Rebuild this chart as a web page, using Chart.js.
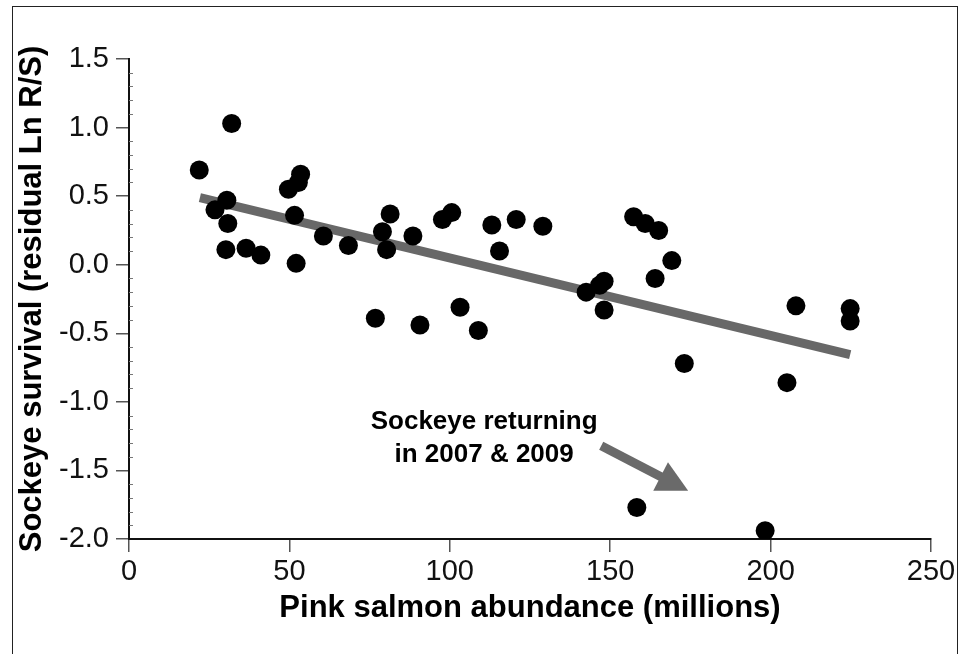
<!DOCTYPE html>
<html>
<head>
<meta charset="utf-8">
<script src="https://cdn.jsdelivr.net/npm/chart.js@4/dist/chart.umd.min.js"></script>
<style>
  html, body { margin: 0; padding: 0; background: #fff; }
  #wrap { position: relative; width: 969px; height: 654px; overflow: hidden; }
  #frame { position: absolute; left: 12px; top: 6px; width: 946px; height: 700px; border: 1.5px solid #222; box-sizing: border-box; }
  canvas { position: absolute; left: 0; top: 0; }
</style>
</head>
<body>
<div id="wrap">
  <div id="frame"></div>
  <canvas id="chart" width="969" height="654"></canvas>
</div>
<script>
// 粉紅鮭數量 (百萬) 與紅鮭存活殘差
const pinkAbundance = [
  21.9, 26.8, 30.2, 30.5, 30.8, 32.0, 36.5, 41.1, 49.7, 51.6,
  52.1, 52.8, 53.5, 60.6, 68.4, 76.8, 79.0, 80.3, 81.4, 88.5,
  90.7, 97.7, 100.6, 103.2, 108.9, 113.1, 115.5, 120.7, 129.0, 142.5,
  146.7, 148.1, 148.1, 157.3, 158.3, 160.9, 164.0, 165.1, 169.2, 173.1,
  198.3, 205.1, 207.9, 224.8, 224.8
];
const sockeyeSurvival = [
  0.69, 0.40, 0.11, 0.47, 0.30, 1.03, 0.12, 0.07, 0.55, 0.36,
  0.01, 0.60, 0.66, 0.21, 0.14, -0.39, 0.24, 0.11, 0.37, 0.21,
  -0.44, 0.33, 0.38, -0.31, -0.48, 0.29, 0.10, 0.33, 0.28, -0.20,
  -0.15, -0.12, -0.33, 0.35, -1.77, 0.30, -0.10, 0.25, 0.03, -0.72,
  -1.94, -0.86, -0.30, -0.32, -0.41
];

// 回歸線兩端
const trendX = [22.1, 224.8];
const trendY = [0.49, -0.656];

// 軸範圍與刻度
const xRange = [0, 250];
const xStep = 50;
const yRange = [-2.0, 1.5];
const yStep = 0.5;

// 註解文字
const noteLines = ['Sockeye returning', 'in 2007 & 2009'];
const noteAt = { x: 110.7, y: [-1.145, -1.385] };
const arrowFrom = { x: 147.2, y: -1.32 };
const arrowTo = { x: 174.3, y: -1.648 };

const FONT = '"Liberation Sans", Arial, Helvetica, sans-serif';

const points = pinkAbundance.map((x, i) => ({ x: x, y: sockeyeSurvival[i] }));
const trend = trendX.map((x, i) => ({ x: x, y: trendY[i] }));

// 小刻度 + 註解 + 箭頭
const extras = {
  id: 'extras',
  afterDatasetsDraw(chart) {
    const ctx = chart.ctx;
    const xs = chart.scales.x, ys = chart.scales.y;
    ctx.save();

    // y 軸內側小刻度
    ctx.strokeStyle = '#777';
    ctx.lineWidth = 1;
    for (let k = -20; k <= 15; k++) {
      if (k % 5 === 0) continue;
      const py = Math.round(ys.getPixelForValue(k / 10)) + 0.5;
      ctx.beginPath();
      ctx.moveTo(xs.left, py);
      ctx.lineTo(xs.left + 4, py);
      ctx.stroke();
    }

    // 文字
    ctx.fillStyle = '#000';
    ctx.font = 'bold 26px ' + FONT;
    ctx.textAlign = 'center';
    ctx.textBaseline = 'middle';
    noteLines.forEach((t, i) => {
      ctx.fillText(t, xs.getPixelForValue(noteAt.x), ys.getPixelForValue(noteAt.y[i]));
    });

    // 箭頭
    const x0 = xs.getPixelForValue(arrowFrom.x), y0 = ys.getPixelForValue(arrowFrom.y);
    const x1 = xs.getPixelForValue(arrowTo.x), y1 = ys.getPixelForValue(arrowTo.y);
    const len = Math.hypot(x1 - x0, y1 - y0);
    const ux = (x1 - x0) / len, uy = (y1 - y0) / len;
    const headLen = 31, headHalf = 16;
    const bx = x1 - ux * headLen, by = y1 - uy * headLen;
    ctx.strokeStyle = '#6a6a6a';
    ctx.fillStyle = '#6a6a6a';
    ctx.lineWidth = 9;
    ctx.lineCap = 'butt';
    ctx.beginPath();
    ctx.moveTo(x0, y0);
    ctx.lineTo(bx + ux * 2, by + uy * 2);
    ctx.stroke();
    ctx.beginPath();
    ctx.moveTo(x1, y1);
    ctx.lineTo(bx - uy * headHalf, by + ux * headHalf);
    ctx.lineTo(bx + uy * headHalf, by - ux * headHalf);
    ctx.closePath();
    ctx.fill();

    ctx.restore();
  }
};

const ctx = document.getElementById('chart').getContext('2d');
new Chart(ctx, {
  data: {
    datasets: [
      {
        type: 'scatter',
        data: points,
        backgroundColor: '#000',
        borderWidth: 0,
        pointRadius: 9.5,
        order: 1
      },
      {
        type: 'line',
        data: trend,
        borderColor: '#686868',
        borderWidth: 9,
        borderCapStyle: 'butt',
        pointRadius: 0,
        fill: false,
        order: 2
      }
    ]
  },
  options: {
    responsive: false,
    devicePixelRatio: 1,
    animation: false,
    layout: { padding: { top: 59, right: 38, left: 0, bottom: 0 } },
    plugins: {
      legend: { display: false },
      tooltip: { enabled: false }
    },
    scales: {
      x: {
        type: 'linear',
        min: xRange[0],
        max: xRange[1],
        afterFit(scale) {
          scale.height = 115;
          scale.paddingLeft = 0;
          scale.paddingRight = 0;
        },
        ticks: {
          stepSize: xStep,
          padding: 3,
          color: '#111',
          font: { family: FONT, size: 29 }
        },
        grid: {
          drawOnChartArea: false,
          drawTicks: true,
          tickLength: 13,
          color: '#555',
          lineWidth: 1.5
        },
        border: { display: true, color: '#111', width: 2 },
        title: {
          display: true,
          text: 'Pink salmon abundance (millions)',
          color: '#000',
          font: { family: FONT, size: 31, weight: 'bold' },
          padding: { top: 0, bottom: 27 }
        }
      },
      y: {
        type: 'linear',
        min: yRange[0],
        max: yRange[1],
        afterFit(scale) {
          scale.width = 129;
          scale.paddingTop = 0;
          scale.paddingBottom = 0;
        },
        ticks: {
          stepSize: yStep,
          padding: 7,
          color: '#111',
          font: { family: FONT, size: 29 },
          callback: v => Number(v).toFixed(1)
        },
        grid: {
          drawOnChartArea: false,
          drawTicks: true,
          tickLength: 13,
          color: '#555',
          lineWidth: 1.5
        },
        border: { display: true, color: '#111', width: 2 },
        title: {
          display: true,
          text: 'Sockeye survival (residual Ln R/S)',
          color: '#000',
          font: { family: FONT, size: 31, weight: 'bold' },
          padding: { top: 14, bottom: 0 }
        }
      }
    }
  },
  plugins: [extras]
});
</script>
</body>
</html>
